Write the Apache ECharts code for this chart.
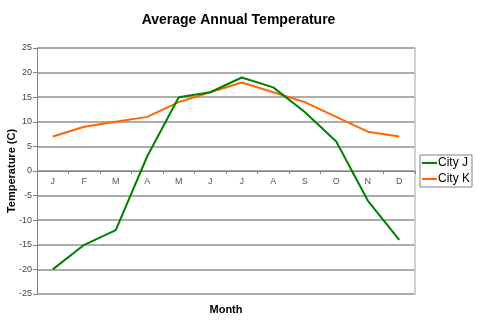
<!DOCTYPE html>
<html>
<head>
<meta charset="utf-8">
<script src="https://cdn.jsdelivr.net/npm/echarts@6/dist/echarts.min.js"></script>
<style>
html,body{margin:0;padding:0;background:#fff;}
#chart{width:477px;height:324px;}
</style>
</head>
<body>
<div id="chart"></div>
<script>
// Monthly average temperatures (°C) for two cities
const months = ['J', 'F', 'M', 'A', 'M', 'J', 'J', 'A', 'S', 'O', 'N', 'D'];
const cityJ = [-20, -15, -12, 3, 15, 16, 19, 17, 12, 6, -6, -14];
const cityK = [7, 9, 10, 11, 14, 16, 18, 16, 14, 11, 8, 7];
const seriesNames = ['City J', 'City K'];
const seriesColors = ['#008000', '#FF6600'];

const chart = echarts.init(document.getElementById('chart'), null, { renderer: 'canvas' });

const font = 'Arial, "Liberation Sans", sans-serif';
const gridTop = 48, gridBottom = 30, chartHeight = 324;
// move the month axis up to the 0 °C line
const zeroOffset = -((chartHeight - gridTop - gridBottom) / 2);

chart.setOption({
  animation: false,
  backgroundColor: '#ffffff',
  title: {
    text: 'Average Annual Temperature',
    left: 'center',
    top: 8,
    textStyle: { fontFamily: font, fontSize: 14, fontWeight: 'bold', color: '#000' }
  },
  legend: {
    orient: 'vertical',
    right: 5,
    top: 155,
    data: seriesNames,
    icon: 'rect',
    itemWidth: 15,
    itemHeight: 2,
    itemGap: 4,
    padding: [2, 2, 2, 2],
    borderColor: '#808080',
    borderWidth: 1,
    textStyle: { fontFamily: font, fontSize: 12, color: '#000', padding: [0, 0, 0, -4] }
  },
  grid: { left: 37, right: 62, top: gridTop, bottom: gridBottom, containLabel: false, outerBoundsMode: 'none' },
  xAxis: [{
    type: 'category',
    data: months,
    boundaryGap: true,
    position: 'bottom',
    offset: zeroOffset,
    axisLine: { onZero: false, lineStyle: { color: '#808080', width: 1 } },
    axisTick: { show: true, alignWithLabel: false, length: 3, lineStyle: { color: '#808080' } },
    axisLabel: { fontFamily: font, fontSize: 9, color: '#555', margin: 6 },
    splitLine: { show: false }
  }, {
    type: 'category',
    data: months,
    boundaryGap: true,
    position: 'bottom',
    name: 'Month',
    nameLocation: 'middle',
    nameGap: 10,
    nameTextStyle: { fontFamily: font, fontSize: 11, fontWeight: 'bold', color: '#000' },
    axisLine: { show: false, onZero: false },
    axisTick: { show: false },
    axisLabel: { show: false },
    splitLine: { show: false }
  }],
  yAxis: [{
    type: 'value',
    min: -25,
    max: 25,
    interval: 5,
    name: 'Temperature (C)',
    nameLocation: 'middle',
    nameGap: 20,
    nameMoveOverlap: false,
    nameTextStyle: { fontFamily: font, fontSize: 11, fontWeight: 'bold', color: '#000' },
    axisLine: { show: true, lineStyle: { color: '#808080', width: 1 } },
    axisTick: { show: true, length: 4, lineStyle: { color: '#808080' } },
    axisLabel: { fontFamily: font, fontSize: 9, color: '#444', margin: 5 },
    splitLine: { show: true, lineStyle: { color: '#909090', width: 1.5 } }
  }, {
    type: 'value',
    position: 'right',
    min: -25,
    max: 25,
    interval: 5,
    axisLine: { show: true, lineStyle: { color: '#c0c0c0', width: 1.5 } },
    axisTick: { show: false },
    axisLabel: { show: false },
    splitLine: { show: false }
  }],
  series: [
    {
      name: seriesNames[0],
      type: 'line',
      data: cityJ,
      symbol: 'none',
      color: seriesColors[0],
      lineStyle: { width: 2, color: seriesColors[0] },
      z: 3
    },
    {
      name: seriesNames[1],
      type: 'line',
      data: cityK,
      symbol: 'none',
      color: seriesColors[1],
      lineStyle: { width: 2, color: seriesColors[1] },
      z: 2
    }
  ]
});
</script>
</body>
</html>
